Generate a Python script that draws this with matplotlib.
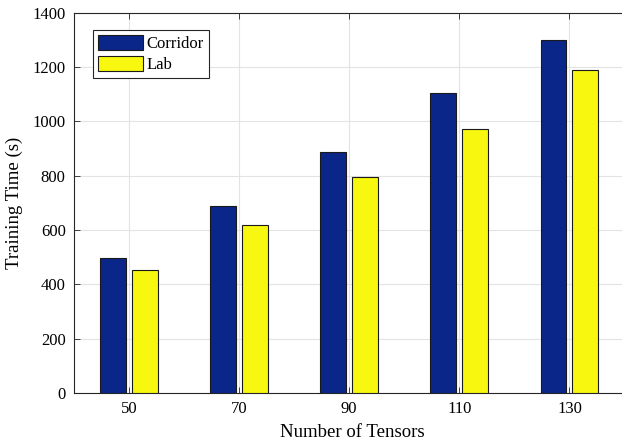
import numpy as np
import matplotlib
matplotlib.use("Agg")
import matplotlib.pyplot as plt

plt.rcParams['font.family'] = ['Liberation Serif', 'DejaVu Serif']

# training time per tensor count
tensors = ["50", "70", "90", "110", "130"]
corridor = [498, 688, 888, 1106, 1301]
lab = [454, 620, 795, 971, 1188]

fig = plt.figure(figsize=(6.22, 4.47), dpi=100)
ax = fig.add_axes([74 / 622, 1 - 393 / 447, 556 / 622, 380.3 / 447])

x = np.arange(len(tensors))
w = 0.235
off = 0.145
ax.bar(x - off, corridor, w, color="#0b2689", edgecolor="#1a1a1a", linewidth=0.8,
       label="Corridor", zorder=3)
ax.bar(x + off, lab, w, color="#f7f70f", edgecolor="#1a1a1a", linewidth=0.8,
       label="Lab", zorder=3)

ax.set_xlim(-0.5, 4.55)
ax.set_ylim(0, 1400)
ax.set_xticks(x)
ax.set_xticklabels(tensors)
ax.set_yticks(np.arange(0, 1401, 200))
ax.grid(True, color="#e3e3e3", linewidth=0.8, zorder=0)
ax.set_axisbelow(True)

ax.tick_params(direction="in", length=4, width=0.6, color="#262626",
               top=True, right=True, labelsize=12, pad=6)
for s in ax.spines.values():
    s.set_color("#262626")
    s.set_linewidth(0.8)

ax.set_xlabel("Number of Tensors", fontsize=13.5, labelpad=5)
ax.set_ylabel("Training Time (s)", fontsize=13.5, labelpad=7)

leg = ax.legend(loc="upper left", bbox_to_anchor=(0.035, 0.955), borderaxespad=0,
                fontsize=12, handlelength=2.7, handleheight=1.0, handletextpad=0.2,
                labelspacing=0.25, borderpad=0.3, fancybox=False, framealpha=1)
leg.get_frame().set_edgecolor("#262626")
leg.get_frame().set_linewidth(0.8)

fig.savefig("out.png", dpi=100)
